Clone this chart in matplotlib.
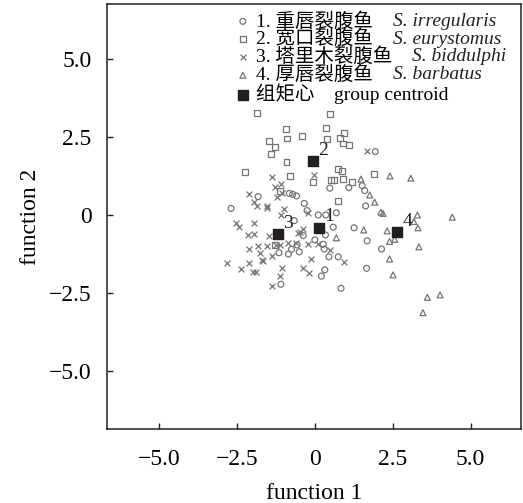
import numpy as np
import matplotlib
matplotlib.use("Agg")
import matplotlib.pyplot as plt

plt.rcParams['font.family'] = ['Liberation Serif', 'Noto Sans CJK SC']

# group 1 - S. irregularis
g1_x = [1.94, 0.48, 1.09, 1.52, 1.60, 1.63, -2.69, -1.82, -0.82, -0.71, -0.59, -0.34, -0.25,
        0.11, 0.35, 0.69, -0.66, 0.59, 0.34, 1.26, 1.68, 2.14, 1.66, 0.00, 0.27, 0.30,
        -0.37, -0.57, -0.75, -0.50, -0.85, -1.15, 0.45, 0.75, 0.32, 0.21, -1.09, 0.84]
g1_y = [2.03, 0.86, 0.88, 0.94, 0.78, 0.29, 0.21, 0.59, 0.69, 0.66, 0.61, 0.37, 0.14,
        0.00, 0.00, 0.07, -0.18, -0.39, -0.64, -0.41, -0.83, -1.09, -1.71, -0.80, -0.94, -1.09,
        -0.66, -0.96, -1.10, -1.18, -1.25, -1.21, -1.34, -1.34, -1.76, -1.96, -2.22, -2.35]

# group 2 - S. eurystomus
g2_x = [-1.87, 0.50, -0.93, 0.37, -0.42, -0.89, 0.38, 0.94, 0.82, -1.48, -1.29, 0.91, 1.09,
        -1.41, -0.91, -2.23, -0.79, -0.05, 0.75, 0.87, 0.51, 0.62, 0.89, 1.20, 1.91, -1.13,
        0.74, -1.28]
g2_y = [3.28, 3.24, 2.76, 2.80, 2.54, 2.45, 2.43, 2.62, 2.48, 2.37, 2.18, 2.29, 2.23,
        1.96, 1.71, 1.39, 1.26, 1.07, 1.47, 1.42, 1.12, 1.13, 1.15, 1.07, 1.30, 0.78,
        0.45, -0.96]

# group 3 - S. biddulphi
g3_x = [1.66, -1.39, -1.09, -1.28, -0.02, -1.20, -1.05, -2.11, -1.95, -1.87, -1.55, -1.53,
        -0.99, -1.08, -0.23, -2.53, -2.43, -1.95, -2.14, -1.96, -1.46, -2.11, -1.84, -1.53,
        -1.76, -1.71, -1.66, -1.36, -2.11, -2.83, -2.38, -2.00, -1.89, -1.07, -1.12, -1.37,
        -1.25, -1.12, -0.85, -0.61, -0.53, -0.48, -0.37, -0.23, 0.11, 0.50, 0.94, -0.11,
        -0.37, -0.18]
g3_y = [2.05, 1.23, 0.99, 0.89, 1.29, 0.59, 0.69, 0.66, 0.41, 0.29, 0.29, 0.21,
        0.19, 0.00, 0.05, -0.27, -0.37, -0.25, -0.64, -0.62, -0.67, -1.09, -0.98, -0.98,
        -1.23, -1.44, -1.46, -1.31, -1.53, -1.55, -1.73, -1.84, -1.84, -1.69, -1.94, -2.27,
        -0.96, -0.96, -0.91, -0.91, -0.59, -0.53, -0.45, -0.94, -0.94, -1.12, -1.50, -1.40,
        -1.69, -1.87]

# group 4 - S. barbatus
g4_x = [1.48, 2.41, 3.08, 1.76, 1.92, 2.12, 2.19, 3.29, 4.41, 3.18, 3.31, 1.57, 2.32,
        2.40, 2.56, 3.34, 2.40, 2.51, 3.61, 4.02, 3.47, 0.69]
g4_y = [1.15, 1.25, 1.18, 0.64, 0.41, 0.09, 0.05, 0.00, -0.07, -0.21, -0.41, -0.48, -0.51,
        -0.85, -0.78, -1.02, -1.41, -1.92, -2.64, -2.56, -3.13, -0.73]

# group centroids
cent_x = [0.14, -0.07, -1.19, 2.64]
cent_y = [-0.41, 1.72, -0.62, -0.55]
cent_lab = ['1', '2', '3', '4']

cn_labels = ['1. 重唇裂腹鱼', '2. 宽口裂腹鱼', '3. 塔里木裂腹鱼', '4. 厚唇裂腹鱼',
             '组矩心\u3000group centroid']
latin_names = ['S. irregularis', 'S. eurystomus', 'S. biddulphi', 'S. barbatus']

ticks = [-5.0, -2.5, 0, 2.5, 5.0]
tick_labels = ['\u22125.0', '\u22122.5', '0', '2.5', '5.0']

gray = '#747474'
dark = '#231f20'
fig = plt.figure(figsize=(5.23, 5.03), dpi=100)
ax = fig.add_axes([0.2046, 0.147, 0.7924, 0.845])

ms = 18
ax.scatter(g1_x, g1_y, s=ms, marker='o', facecolors='none', edgecolors=gray, linewidths=0.9, label=cn_labels[0])
ax.scatter(g2_x, g2_y, s=ms, marker='s', facecolors='none', edgecolors=gray, linewidths=0.9, label=cn_labels[1])
ax.scatter(g3_x, g3_y, s=ms, marker='x', color=gray, linewidths=0.9, label=cn_labels[2])
ax.scatter(g4_x, g4_y, s=ms, marker='^', facecolors='none', edgecolors=gray, linewidths=0.9, label=cn_labels[3])
ax.scatter(cent_x, cent_y, s=50, marker='s', color=dark, label=cn_labels[4], zorder=5)

for x, y, t in zip(cent_x, cent_y, cent_lab):
    ax.annotate(t, (x, y), xytext=(7.5, 8), textcoords='offset points',
                ha='center', va='center', fontsize=14, color=dark)

ax.set_xlim(-6.67, 6.63)
ax.set_ylim(-6.86, 6.76)
ax.set_xticks(ticks, tick_labels)
ax.set_yticks(ticks, tick_labels)
ax.tick_params(direction='in', length=4.5, width=1, labelsize=17, color=dark)
ax.tick_params(axis='x', pad=14)
ax.tick_params(axis='y', pad=11)
for s in ax.spines.values():
    s.set_linewidth(1.1)
    s.set_color(dark)

ax.set_xlabel('function 1', fontsize=17, labelpad=10)
ax.set_ylabel('function 2', fontsize=17, labelpad=6)

leg = ax.legend(loc='upper left', bbox_to_anchor=(0.309, 0.982), frameon=False, fontsize=14,
                handlelength=0.8, handletextpad=0.3, borderpad=0, borderaxespad=0,
                labelspacing=-0.04, scatterpoints=1)

# italic species names after the chinese names (need the legend laid out first)
fig.canvas.draw()
inv = ax.transAxes.inverted()
gap = 14 * 100 / 72.0
for txt, name in zip(leg.get_texts()[:4], latin_names):
    bb = txt.get_window_extent()
    x0, y0 = inv.transform((bb.x1 + gap, (bb.y0 + bb.y1) / 2))
    ax.text(x0, y0, name, transform=ax.transAxes, ha='left', va='center',
            fontsize=14, style='italic', color=dark)

fig.savefig('out.png', dpi=100)
